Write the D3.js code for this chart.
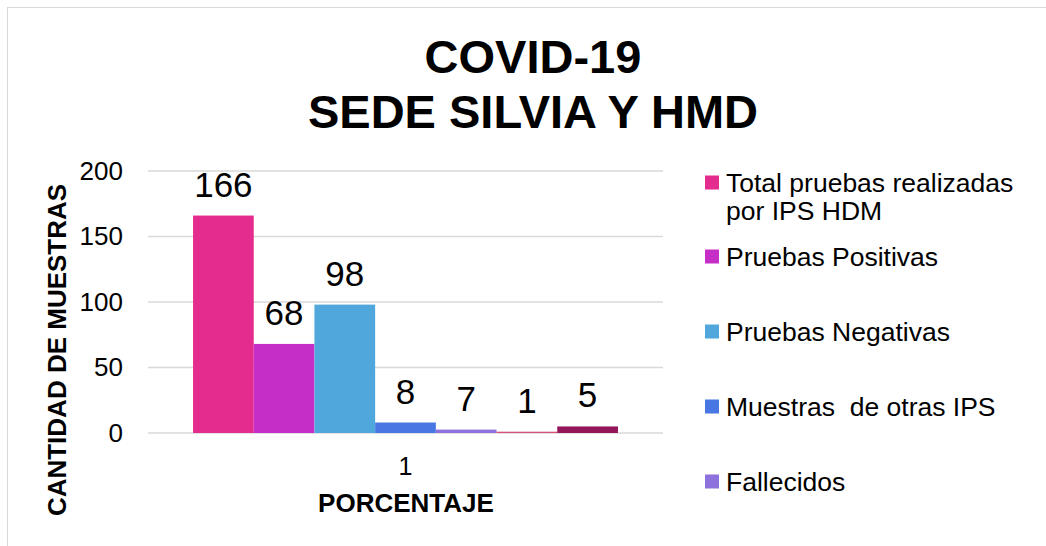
<!DOCTYPE html>
<html>
<head>
<meta charset="utf-8">
<script src="https://cdn.jsdelivr.net/npm/d3@7"></script>
<style>
  body { margin: 0; background: #fff; }
  text { font-family: "Liberation Sans", Arial, sans-serif; }
</style>
</head>
<body>
<script>
// Data
const categories = ["1"];
const seriesNames = ["Total pruebas realizadas\npor IPS HDM", "Pruebas Positivas", "Pruebas Negativas",
                     "Muestras  de otras IPS", "Fallecidos", "Serie 6", "Serie 7"];
const seriesValues = [166, 68, 98, 8, 2.6, 1, 5];
const dataLabels = ["166", "68", "98", "8", "7", "1", "5"];
const seriesColors = ["#e32c8e", "#c52fc8", "#4fa7db", "#4877e4", "#8d72dd", "#dc4f78", "#93165b"];
const yTicks = [0, 50, 100, 150, 200];
const visibleLegend = 5;

const width = 1046, height = 546;
const margin = { top: 171, right: 383, bottom: 113, left: 148 };

const svg = d3.select("body").append("svg")
    .attr("width", width)
    .attr("height", height);

// Chart area frame
svg.append("rect")
    .attr("x", 7.5).attr("y", 7.5)
    .attr("width", 1100).attr("height", 600)
    .attr("fill", "#fff")
    .attr("stroke", "#d9d9d9");

// Scales
const x0 = d3.scaleBand()
    .domain(categories)
    .range([margin.left, width - margin.right])
    .paddingInner(0)
    .paddingOuter(0.106);

const x1 = d3.scaleBand()
    .domain(d3.range(seriesValues.length))
    .range([0, x0.bandwidth()])
    .padding(0);

const y = d3.scaleLinear()
    .domain([0, 200])
    .range([height - margin.bottom, margin.top]);

// Gridlines
svg.append("g")
    .selectAll("line")
    .data(yTicks)
    .join("line")
    .attr("x1", margin.left)
    .attr("x2", width - margin.right)
    .attr("y1", d => y(d))
    .attr("y2", d => y(d))
    .attr("stroke", "#d9d9d9")
    .attr("stroke-width", 1.5);

// Y axis labels
const yAxis = svg.append("g")
    .attr("transform", `translate(${margin.left},0)`)
    .call(d3.axisLeft(y).tickValues(yTicks).tickSize(0).tickPadding(25));
yAxis.select(".domain").remove();
yAxis.selectAll("text")
    .attr("fill", "#000")
    .style("font-size", "26px")
    .style("font-family", "'Liberation Sans', Arial, sans-serif");

// X axis labels
const xAxis = svg.append("g")
    .attr("transform", `translate(0,${height - margin.bottom})`)
    .call(d3.axisBottom(x0).tickSize(0).tickPadding(24));
xAxis.select(".domain").remove();
xAxis.selectAll("text")
    .attr("fill", "#000")
    .style("font-size", "25px")
    .style("font-family", "'Liberation Sans', Arial, sans-serif");

// Bars
const group = svg.append("g")
    .attr("transform", `translate(${x0(categories[0])},0)`);

group.selectAll("rect")
    .data(seriesValues)
    .join("rect")
    .attr("x", (d, i) => x1(i))
    .attr("y", d => y(d))
    .attr("width", x1.bandwidth())
    .attr("height", d => y(0) - y(d))
    .attr("fill", (d, i) => seriesColors[i]);

// Data labels
group.selectAll("text")
    .data(seriesValues)
    .join("text")
    .attr("x", (d, i) => x1(i) + x1.bandwidth() / 2)
    .attr("y", d => y(d) - 19)
    .attr("text-anchor", "middle")
    .style("font-size", "35px")
    .text((d, i) => dataLabels[i]);

// Title
svg.append("text")
    .attr("x", 533)
    .attr("y", 73)
    .attr("text-anchor", "middle")
    .style("font-size", "47px")
    .style("font-weight", "bold")
    .text("COVID-19");

svg.append("text")
    .attr("x", 533)
    .attr("y", 128)
    .attr("text-anchor", "middle")
    .style("font-size", "47px")
    .style("font-weight", "bold")
    .text("SEDE SILVIA Y HMD");

// Axis titles
svg.append("text")
    .attr("x", 406)
    .attr("y", 512)
    .attr("text-anchor", "middle")
    .style("font-size", "26px")
    .style("font-weight", "bold")
    .text("PORCENTAJE");

svg.append("text")
    .attr("transform", "rotate(-90)")
    .attr("x", -350)
    .attr("y", 66)
    .attr("text-anchor", "middle")
    .style("font-size", "26px")
    .style("font-weight", "bold")
    .text("CANTIDAD DE MUESTRAS");

// Legend (only the entries that fit are shown)
const legend = svg.append("g");
const legendY = [182.5, 256.5, 331.5, 406.5, 481.5];

seriesNames.slice(0, visibleLegend).forEach((name, i) => {
    const lines = name.split("\n");
    legend.append("rect")
        .attr("x", 705)
        .attr("y", legendY[i] - 7)
        .attr("width", 14)
        .attr("height", 14)
        .attr("fill", seriesColors[i]);
    const t = legend.append("text")
        .attr("x", 726)
        .attr("y", legendY[i] + 9)
        .style("font-size", "26.5px")
        .style("white-space", "pre");
    lines.forEach((line, j) => {
        t.append("tspan")
            .attr("x", 726)
            .attr("dy", j === 0 ? 0 : 28)
            .text(line);
    });
});
</script>
</body>
</html>
